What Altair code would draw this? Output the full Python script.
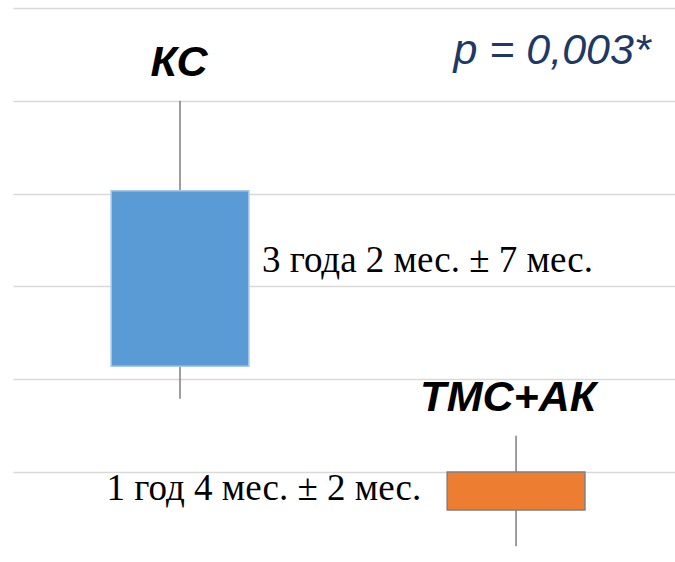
import altair as alt
import pandas as pd

# ---- data (abstract value units; gridlines at 0..5) ----
groups = ["КС", "ТМС+АК"]
group_pos = [1, 2]
whisker_low = [0.79, -0.80]
box_low = [1.14, -0.41]
box_high = [3.03, 0.00]
whisker_high = [4.00, 0.39]
box_colors = ["#5b9bd5", "#ed7d31"]
box_strokes = ["#a9c8ea", "#7f7f7f"]
value_labels = ["3 года 2 мес. ± 7 мес.", "1 год 4 мес. ± 2 мес."]
grid_values = [0, 1, 2, 3, 4, 5]
p_text = "p = 0,003*"

df = pd.DataFrame({
    "group": groups,
    "pos": group_pos,
    "wlo": whisker_low,
    "blo": box_low,
    "bhi": box_high,
    "whi": whisker_high,
    "fill": box_colors,
    "stroke": box_strokes,
    "vlabel": value_labels,
})

xscale = alt.Scale(domain=[0.503, 2.473], nice=False, zero=False)
yscale = alt.Scale(domain=[-0.970, 5.086], nice=False, zero=False)
yaxis = alt.Axis(values=grid_values, labels=False, ticks=False, domain=False,
                 title=None, grid=True, gridColor="#d9d9d9", gridWidth=1.5)

base = alt.Chart(df)

whiskers = base.mark_rule(color="#7f7f7f", strokeWidth=1.5).encode(
    x=alt.X("pos:Q", scale=xscale, axis=None),
    y=alt.Y("wlo:Q", scale=yscale, axis=yaxis),
    y2="whi:Q",
)

boxes = base.transform_calculate(
    xl="datum.pos - 0.205", xr="datum.pos + 0.205"
).mark_bar(strokeWidth=1.5).encode(
    x=alt.X("xl:Q", scale=xscale, axis=None),
    x2="xr:Q",
    y=alt.Y("blo:Q", scale=yscale, axis=yaxis),
    y2="bhi:Q",
    fill=alt.Fill("fill:N", scale=None),
    stroke=alt.Stroke("stroke:N", scale=None),
)

def group_label(name, dx, size):
    return base.transform_filter(alt.datum.group == name).transform_calculate(
        ly="datum.whi + 0.27"
    ).mark_text(font="Liberation Sans", fontWeight="bold", fontStyle="italic",
                fontSize=size, baseline="alphabetic", align="center", dx=dx,
                color="#000000").encode(
        x=alt.X("pos:Q", scale=xscale, axis=None),
        y=alt.Y("ly:Q", scale=yscale, axis=yaxis),
        text="group:N",
    )

lab1 = group_label("КС", -1, 43)
lab2 = group_label("ТМС+АК", -8, 43)

val1 = base.transform_filter(alt.datum.group == "КС").transform_calculate(
    lx="datum.pos + 0.205", ly="(datum.blo + datum.bhi) / 2"
).mark_text(font="Liberation Serif", fontSize=37, align="left", baseline="alphabetic",
            dx=13, dy=-6, color="#000000").encode(
    x=alt.X("lx:Q", scale=xscale, axis=None),
    y=alt.Y("ly:Q", scale=yscale, axis=yaxis),
    text="vlabel:N",
)

val2 = base.transform_filter(alt.datum.group == "ТМС+АК").transform_calculate(
    lx="datum.pos - 0.205", ly="(datum.blo + datum.bhi) / 2"
).mark_text(font="Liberation Serif", fontSize=37, align="right", baseline="alphabetic",
            dx=-26, dy=9, color="#000000").encode(
    x=alt.X("lx:Q", scale=xscale, axis=None),
    y=alt.Y("ly:Q", scale=yscale, axis=yaxis),
    text="vlabel:N",
)

ptext = alt.Chart(pd.DataFrame({"t": [p_text]})).mark_text(
    font="Liberation Sans", fontStyle="italic", fontSize=43, align="center",
    baseline="alphabetic", color="#1f3864"
).encode(
    x=alt.X("px:Q", scale=xscale, axis=None),
    y=alt.Y("py:Q", scale=yscale, axis=yaxis),
    text="t:N",
).transform_calculate(px="2.107", py="4.40")

chart = alt.layer(whiskers, boxes, lab1, lab2, val1, val2, ptext).properties(
    width=662, height=562,
    background="white",
    autosize=alt.AutoSizeParams(type="none"),
    padding={"left": 13, "top": 0, "right": 0, "bottom": 0},
).configure_view(strokeWidth=0, stroke="transparent")

chart.save("out.html", embed_options={"renderer": "svg", "actions": False})
